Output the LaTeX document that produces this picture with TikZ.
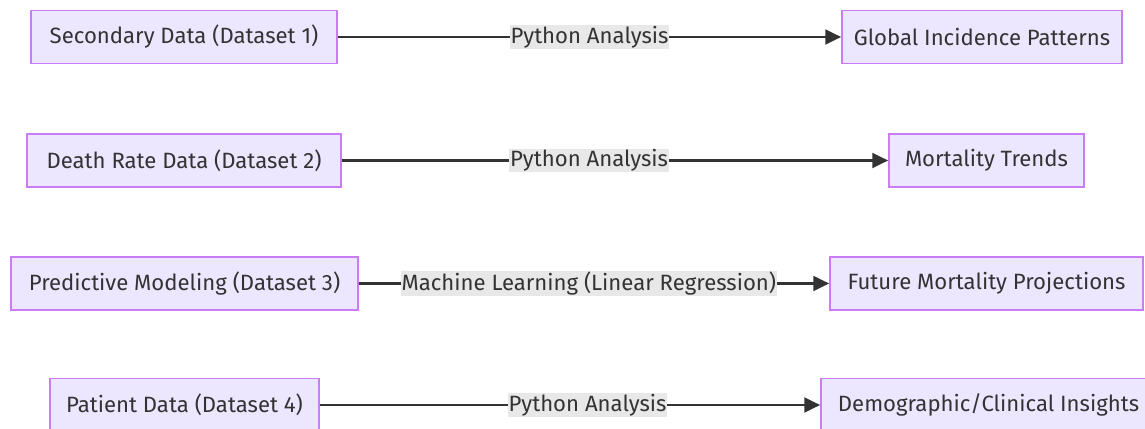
\documentclass[tikz,border=0pt]{standalone}
\usepackage{fontspec}
\setmainfont{Fira Sans}
\usepackage{tikz}
\usetikzlibrary{arrows.meta}
\definecolor{boxfill}{RGB}{236,230,255}
\definecolor{boxline}{RGB}{200,125,245}
\definecolor{ink}{RGB}{51,51,51}
\definecolor{lblfill}{RGB}{232,232,232}

\begin{document}
\begin{tikzpicture}[font=\fontsize{12.6}{14}\selectfont,
    box/.style={draw=boxline,fill=boxfill,line width=1pt,text=ink,minimum height=1.06cm,inner sep=0pt},
    lbl/.style={fill=lblfill,text=ink,inner sep=0.5pt},
    arr/.style={draw=ink,line width=1.2pt,-{Triangle[length=9pt,width=8.5pt]}}]
    \useasboundingbox (0,0) rectangle (22.9,-8.58);

    \node[box,minimum width=6.12cm] (secdata) at (3.68,-0.74) {Secondary Data (Dataset 1)};
    \node[box,minimum width=5.6cm] (incidence) at (19.64,-0.74) {Global Incidence Patterns};
    \node[box,minimum width=6.28cm] (deathdata) at (3.68,-3.21) {Death Rate Data (Dataset 2)};
    \node[box,minimum width=3.9cm] (mortality) at (19.73,-3.21) {Mortality Trends};
    \node[box,minimum width=6.94cm] (predmodel) at (3.69,-5.67) {Predictive Modeling (Dataset 3)};
    \node[box,minimum width=6.26cm] (projections) at (19.73,-5.67) {Future Mortality Projections};
    \node[box,minimum width=5.38cm] (patdata) at (3.69,-8.1) {Patient Data (Dataset 4)};
    \node[box,minimum width=6.7cm] (insights) at (19.77,-8.1) {Demographic/Clinical Insights};

    \path (secdata) edge[arr] node[lbl,pos=0.5] {Python Analysis} (incidence);
    \path (deathdata) edge[arr] node[lbl,pos=0.4526] {Python Analysis} (mortality);
    \path (predmodel) edge[arr] node[lbl,pos=0.489] {Machine Learning (Linear Regression)} (projections);
    \path (patdata) edge[arr] node[lbl,pos=0.535] {Python Analysis} (insights);
  \end{tikzpicture}
\end{document}
